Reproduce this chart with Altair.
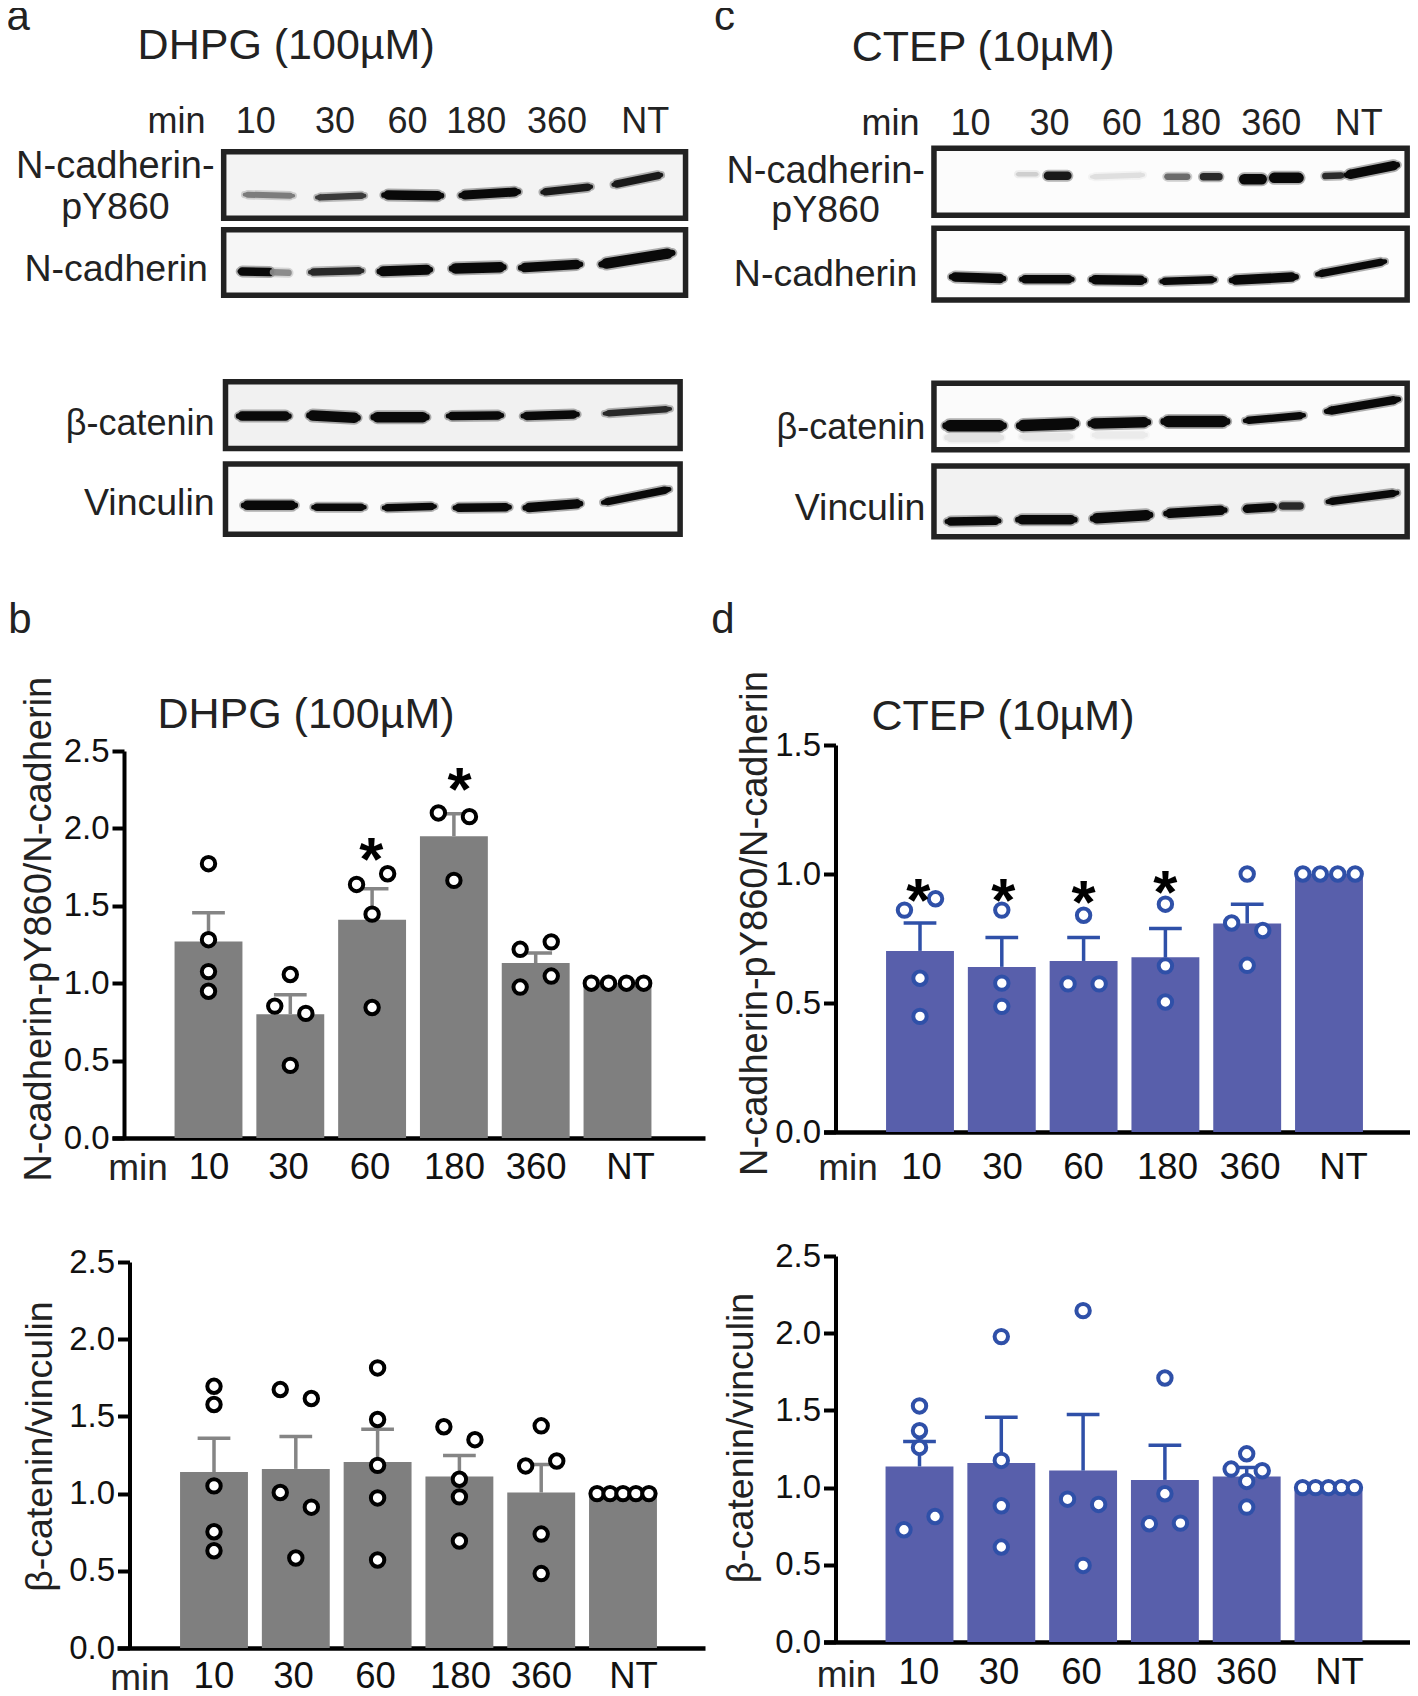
import altair as alt
import pandas as pd

FONT = "Liberation Sans"
W, H = 1402, 1688
STEP = 81.8
HALF = 0.415
CAP = 0.2
GRAY, GRAY_ERR = "#7f7f7f", "#858585"
BLUE, BLUE_LINE = "#585fab", "#2f50a8"

# ---------------- bar panels: values ----------------
cats = ["10", "30", "60", "180", "360", "NT"]

b1_mean = [1.27, 0.80, 1.41, 1.95, 1.13, 1.0]
b1_err = [1.455, 0.925, 1.61, 2.095, 1.195, None]
b1_pts = [
    [(1.772, 0), (1.281, 0), (1.075, 0), (0.948, 0)],
    [(1.056, 0), (0.852, -.19), (0.805, .19), (0.469, 0)],
    [(1.707, .19), (1.638, -.19), (1.446, 0), (0.843, 0)],
    [(2.10, -.19), (2.076, .19), (1.664, 0)],
    [(1.267, .19), (1.219, -.19), (1.046, .19), (0.975, -.19)],
    [(1, -.32), (1, -.11), (1, .11), (1, .32)],
]
b1_stars = [(1.99, 1.853), (3.07, 2.308)]

b2_mean = [1.14, 1.16, 1.205, 1.11, 1.007, 1.0]
b2_err = [1.358, 1.37, 1.416, 1.246, 1.188, None]
b2_pts = [
    [(1.695, 0), (1.577, 0), (1.05, 0), (0.753, 0), (0.63, 0)],
    [(1.674, -.19), (1.616, .19), (1.007, -.19), (0.912, .19), (0.583, 0)],
    [(1.814, 0), (1.48, 0), (1.183, 0), (0.972, 0), (0.57, 0)],
    [(1.433, -.19), (1.349, .19), (1.093, 0), (0.979, 0), (0.693, 0)],
    [(1.439, 0), (1.211, .19), (1.179, -.19), (0.738, 0), (0.482, 0)],
    [(1, -.317), (1, -.158), (1, 0), (1, .158), (1, .317)],
]

d1_mean = [0.702, 0.64, 0.663, 0.677, 0.808, 1.0]
d1_err = [0.81, 0.754, 0.754, 0.789, 0.883, None]
d1_pts = [
    [(0.904, .19), (0.86, -.19), (0.596, 0), (0.448, 0)],
    [(0.86, 0), (0.577, 0), (0.487, 0)],
    [(0.84, 0), (0.574, -.19), (0.574, .19)],
    [(0.883, 0), (0.644, 0), (0.504, 0)],
    [(1.0, 0), (0.81, -.19), (0.781, .19), (0.646, 0)],
    [(1, -.32), (1, -.107), (1, .107), (1, .32)],
]
d1_stars = [(-.02, .929), (1.02, .929), (2.0, .924), (3.0, .96)]

d2_mean = [1.137, 1.16, 1.11, 1.05, 1.072, 1.0]
d2_err = [1.299, 1.456, 1.473, 1.275, 1.13, None]
d2_pts = [
    [(1.529, 0), (1.368, 0), (1.26, 0), (0.813, .19), (0.727, -.19)],
    [(1.978, 0), (1.176, 0), (0.882, 0), (0.615, 0)],
    [(2.146, 0), (0.925, -.19), (0.891, .19), (0.496, 0)],
    [(1.71, 0), (0.96, 0), (0.766, -.19), (0.77, .19)],
    [(1.219, 0), (1.12, -.19), (1.109, .19), (1.04, 0), (0.874, 0)],
    [(1, -.317), (1, -.158), (1, 0), (1, .158), (1, .317)],
]

TITLE_1 = "N-cadherin-pY860/N-cadherin"
TITLE_2 = "β-catenin/vinculin"


def panel(mean, err, pts, stars, color, line, point_line,
          xs, xe, axis_x, y0, ytop, dmax, ticks, c0, label_px, label_pad, min_px, min_base,
          title, title_size, title_x, title_y, extras):
    to_u = lambda px: (px - c0) / STEP
    xscale = alt.Scale(domain=[to_u(xs), to_u(xe)], range=[xs - 8, xe - 8])
    yscale = alt.Scale(domain=[0, dmax], range=[y0 - 8, ytop - 8])
    per = (y0 - ytop) / dmax
    expr = "[" + ",".join(f"'{c}'" for c in cats) + "][round(datum.index*5)]"
    xaxis = alt.Axis(values=[to_u(p) for p in label_px], labelExpr=expr, ticks=False,
                     title=None, grid=False, orient="bottom", offset=-(H - (y0 - 8)),
                     domainWidth=4.5, domainColor="#000", labelFont=FONT, labelFontSize=36.5,
                     labelColor="#111", labelPadding=label_pad, labelOverlap=False, labelBound=False,
                     labelFlush=False)
    yaxis = alt.Axis(values=ticks, format=".1f", title=title, grid=False, orient="left",
                     offset=-(axis_x - 8), domainWidth=4, domainColor="#000", tickColor="#000",
                     tickWidth=4, tickSize=12, labelFont=FONT, labelFontSize=33, labelColor="#111",
                     labelPadding=3, labelOverlap=False, labelBound=False, labelFlush=False,
                     titleFont=FONT, titleFontSize=title_size, titleFontWeight="normal", titleColor="#222",
                     titleAngle=270, titleAlign="center", titleBaseline="alphabetic",
                     titleX=title_x - axis_x, titleY=title_y - 8)
    X = lambda f: alt.X(f, scale=xscale, axis=xaxis)
    Y = lambda f: alt.Y(f, scale=yscale, axis=yaxis)
    bars = pd.DataFrame({"i": range(6), "v": mean, "e": err})
    bars["x0"] = bars.i - HALF
    bars["x1"] = bars.i + HALF
    bars["zero"] = 0.0
    bars["c0"] = bars.i - CAP
    bars["c1"] = bars.i + CAP
    errs = bars.dropna(subset=["e"])
    points = pd.DataFrame([{"x": i + j, "v": v} for i, row in enumerate(pts) for v, j in row])

    layers = [
        alt.Chart(bars).mark_rect(color=color).encode(
            x=X("x0:Q"), x2="x1:Q", y=Y("v:Q"), y2="zero:Q"),
        alt.Chart(errs).mark_rule(color=line, strokeWidth=3.5).encode(
            x=X("i:Q"), y=Y("v:Q"), y2="e:Q"),
        alt.Chart(errs).mark_rule(color=line, strokeWidth=3.5).encode(
            x=X("c0:Q"), x2="c1:Q", y=Y("e:Q")),
        alt.Chart(points).mark_circle(fill="white", stroke=point_line, strokeWidth=4,
                                      size=180, opacity=1).encode(
            x=X("x:Q"), y=Y("v:Q")),
    ]
    if stars:
        sd = pd.DataFrame(stars, columns=["x", "v"])
        sd["t"] = "*"
        layers.append(alt.Chart(sd).mark_text(font=FONT, fontWeight="bold", fontSize=62,
                                              baseline="alphabetic", dy=29, color="#000").encode(
            x=X("x:Q"), y=Y("v:Q"), text="t:N"))
    txt = [{"x": to_u(min_px), "v": (y0 - min_base) / per, "t": "min", "s": 37}]
    for t, px, base, s in extras:
        txt.append({"x": to_u(px), "v": (y0 - base) / per, "t": t, "s": s})
    layers.append(alt.Chart(pd.DataFrame(txt)).mark_text(font=FONT, baseline="alphabetic", color="#222").encode(
        x=X("x:Q"), y=Y("v:Q"), text="t:N", size=alt.Size("s:Q", scale=None)))
    return alt.layer(*layers)


# ---------------- blots: positions in units of a gel grid ----------------
# frames: x0, x1, y0, y1, background
a_frames = [
    (494, 1514, 425, 611, "#f3f3f3"), (494, 1514, 643, 827, "#f6f6f6"),
    (498, 1502, 1069, 1256, "#f1f1f1"), (498, 1502, 1299, 1496, "#fafafa"),
]
# bands: x0, x1, y0, y1, thickness, tone
a_bands = [
    (540, 648, 545, 548, 4.5, "#777"), (700, 805, 553, 548, 5, "#333"), (848, 975, 546, 548, 8, "#000"),
    (1018, 1145, 547, 537, 7.5, "#000"), (1198, 1305, 538, 523, 6, "#111"), (1355, 1460, 517, 490, 6, "#111"),
    (530, 600, 760, 762, 7, "#000"), (600, 640, 762, 764, 5, "#888"), (685, 800, 762, 758, 6, "#222"),
    (838, 950, 760, 755, 8.5, "#000"), (998, 1112, 752, 748, 9, "#000"), (1150, 1282, 750, 740, 8, "#000"),
    (1328, 1485, 740, 708, 9, "#000"),
    (527, 638, 1165, 1165, 8, "#000"), (683, 790, 1163, 1170, 9, "#000"), (825, 942, 1168, 1168, 9, "#000"),
    (990, 1108, 1165, 1163, 7, "#000"), (1155, 1275, 1165, 1160, 7, "#000"), (1335, 1480, 1158, 1145, 5, "#222"),
    (538, 652, 1415, 1415, 8, "#000"), (692, 805, 1420, 1420, 6, "#000"), (848, 960, 1422, 1418, 6, "#000"),
    (1005, 1125, 1422, 1420, 7, "#000"), (1160, 1282, 1422, 1410, 8, "#000"), (1332, 1478, 1407, 1370, 6, "#000"),
]
a_text = [
    ("a", 40, 84, "center", 42), ("DHPG (100µM)", 632, 165, "center", 43),
    ("min", 390, 372, "center", 36), ("10", 565, 372, "center", 36), ("30", 740, 372, "center", 36),
    ("60", 900, 372, "center", 36), ("180", 1052, 372, "center", 36), ("360", 1230, 372, "center", 36),
    ("NT", 1425, 372, "center", 36),
    ("N-cadherin-", 474, 497, "right", 38), ("pY860", 255, 612, "center", 37.5),
    ("N-cadherin", 459, 787, "right", 37.5), ("β-catenin", 474, 1217, "right", 36),
    ("Vinculin", 474, 1442, "right", 37.5),
]
c_frames = [
    (496, 1544, 415, 603, "#fcfcfc"), (496, 1544, 639, 840, "#fdfdfd"),
    (496, 1544, 1073, 1259, "#fbfbfb"), (496, 1544, 1305, 1503, "#f2f2f2"),
]
c_bands = [
    (680, 725, 488, 488, 3, "#ccc"), (745, 795, 492, 492, 7, "#111"), (845, 960, 495, 490, 4, "#ddd"),
    (1010, 1060, 495, 495, 5, "#666"), (1090, 1130, 495, 495, 6, "#222"), (1180, 1225, 502, 502, 9, "#000"),
    (1245, 1308, 498, 498, 9, "#000"), (1360, 1400, 493, 491, 5, "#222"), (1410, 1522, 490, 462, 8, "#000"),
    (535, 650, 775, 780, 8, "#000"), (690, 802, 782, 782, 7, "#000"), (845, 962, 783, 785, 8, "#000"),
    (1000, 1118, 788, 783, 6, "#000"), (1155, 1298, 785, 775, 8, "#000"), (1345, 1495, 768, 732, 6, "#000"),
    (525, 645, 1225, 1225, 8, "#e2e2e2"), (690, 800, 1222, 1222, 6, "#e6e6e6"), (850, 965, 1218, 1218, 6, "#eaeaea"),
    (522, 650, 1192, 1192, 10, "#000"), (685, 810, 1192, 1186, 10, "#000"), (843, 970, 1186, 1182, 9, "#000"),
    (1005, 1145, 1180, 1180, 10, "#000"), (1185, 1315, 1178, 1163, 6, "#000"), (1365, 1525, 1152, 1118, 7, "#000"),
    (525, 640, 1460, 1458, 7, "#000"), (682, 808, 1455, 1455, 8, "#000"), (848, 975, 1452, 1442, 9, "#000"),
    (1010, 1140, 1438, 1428, 8, "#000"), (1185, 1250, 1425, 1420, 7, "#000"), (1265, 1310, 1417, 1417, 6, "#222"),
    (1368, 1522, 1405, 1380, 6, "#000"),
]
c_text = [
    ("c", 32, 84, "center", 42), ("CTEP (10µM)", 605, 172, "center", 43),
    ("min", 400, 377, "center", 36), ("10", 577, 377, "center", 36), ("30", 752, 377, "center", 36),
    ("60", 912, 377, "center", 36), ("180", 1065, 377, "center", 36), ("360", 1243, 377, "center", 36),
    ("NT", 1437, 377, "center", 36),
    ("N-cadherin-", 476, 512, "right", 38), ("pY860", 256, 622, "center", 37.5),
    ("N-cadherin", 459, 800, "right", 37.5), ("β-catenin", 477, 1230, "right", 36),
    ("Vinculin", 477, 1455, "right", 37.5),
]


def gel(frames, bands, text, left, width):
    xs = alt.Scale(domain=[0, 1568], range=[left - 8, left + width - 8])
    ys = alt.Scale(domain=[0, 1568], range=[-8, 560 - 8])
    X = lambda f: alt.X(f, scale=xs, axis=None)
    Y = lambda f: alt.Y(f, scale=ys, axis=None)
    fr = pd.DataFrame(frames, columns=["x0", "x1", "y0", "y1", "bg"])
    rows = []
    for k, (x0, x1, y0, y1, th, tone) in enumerate(bands):
        for f, w in ((0, .6), (.07, 1), (.93, 1), (1, .6)):
            rows.append({"b": k, "x": x0 + (x1 - x0) * f, "y": y0 + (y1 - y0) * f,
                         "s": (th + 1.5) * w, "h": (th + 1.5) * w + 3.5, "tone": tone})
    bd = pd.DataFrame(rows)
    td = pd.DataFrame(text, columns=["t", "x", "y", "al", "s"])
    parts = [
        alt.Chart(fr).mark_rect(stroke="#222", strokeWidth=5.5).encode(
            x=X("x0:Q"), x2="x1:Q", y=Y("y0:Q"), y2="y1:Q", fill=alt.Fill("bg:N", scale=None)),
        alt.Chart(bd).mark_trail(opacity=.3).encode(
            x=X("x:Q"), y=Y("y:Q"), detail="b:N", color=alt.Color("tone:N", scale=None),
            size=alt.Size("h:Q", scale=None)),
        alt.Chart(bd).mark_trail(opacity=.95).encode(
            x=X("x:Q"), y=Y("y:Q"), detail="b:N", color=alt.Color("tone:N", scale=None),
            size=alt.Size("s:Q", scale=None)),
    ]
    for al in ("center", "right"):
        parts.append(alt.Chart(td[td.al == al]).mark_text(font=FONT, baseline="alphabetic", align=al, color="#222").encode(
            x=X("x:Q"), y=Y("y:Q"), text="t:N", size=alt.Size("s:Q", scale=None)))
    return alt.layer(*parts)


T25 = [0, .5, 1, 1.5, 2, 2.5]
T15 = [0, .5, 1, 1.5]

pb1 = panel(b1_mean, b1_err, b1_pts, b1_stars, GRAY, GRAY_ERR, "#000",
            112, 705, 124, 1138, 751, 2.5, T25, 208.5,
            [208.5, 288, 369.6, 454, 535.7, 630], 11, 138, 1180, TITLE_1, 38, 50, 928.7,
            [("DHPG (100µM)", 306, 728, 43), ("b", 20, 633, 42)])
pb2 = panel(b2_mean, b2_err, b2_pts, None, GRAY, GRAY_ERR, "#000",
            117, 705, 129.5, 1648, 1262, 2.5, T25, 214,
            [213.4, 293, 375, 460, 541, 633], 10, 140, 1690, TITLE_2, 37.5, 51, 1446, [])
pd1 = panel(d1_mean, d1_err, d1_pts, d1_stars, BLUE, BLUE_LINE, BLUE_LINE,
            823.6, 1416, 835.5, 1132, 745, 1.5, T15, 920,
            [921, 1002, 1083, 1167, 1249.5, 1343], 17, 848, 1180, TITLE_1, 38, 766, 923,
            [("CTEP (10µM)", 1003, 730, 43), ("d", 723, 633, 42)])
pd2 = panel(d2_mean, d2_err, d2_pts, None, BLUE, BLUE_LINE, BLUE_LINE,
            823.6, 1416, 835.5, 1642, 1256, 2.5, T25, 919.5,
            [918.4, 998.5, 1081, 1166, 1246, 1339], 12, 846.5, 1687, TITLE_2, 37.5, 752, 1437.5, [])

chart = alt.layer(
    gel(a_frames, a_bands, a_text, 0, 710),
    gel(c_frames, c_bands, c_text, 710, 708),
    pb1, pb2, pd1, pd2,
).resolve_scale(x="independent", y="independent").properties(
    width=W, height=H, padding=0, autosize="none"
).configure_view(stroke=None)

chart.save("out.html", embed_options={"renderer": "svg", "actions": False})
